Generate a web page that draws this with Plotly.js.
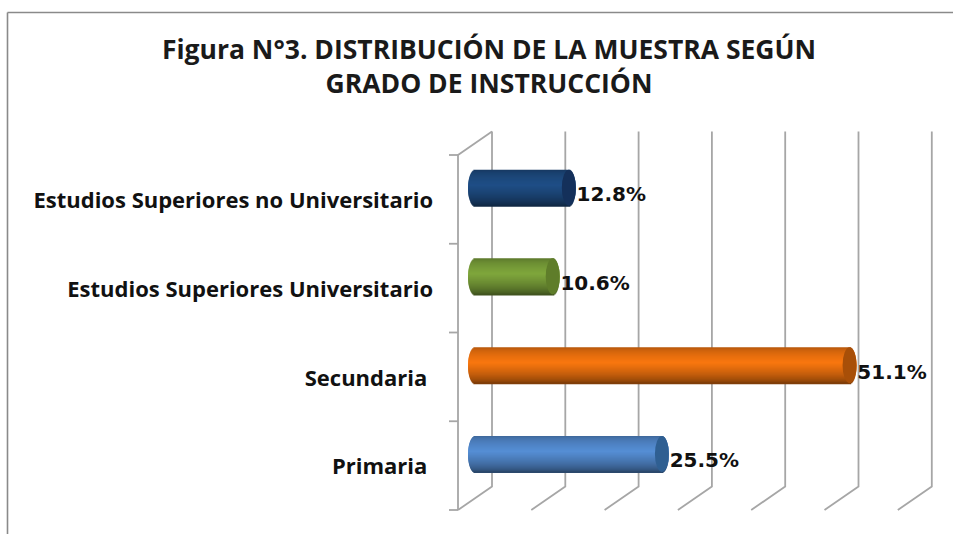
<!DOCTYPE html>
<html><head><meta charset="utf-8">
<script src="https://cdn.plot.ly/plotly-3.0.1.min.js"></script>
<style>html,body{margin:0;padding:0;background:#fff}#c{width:953px;height:534px}</style>
</head><body><div id="c"></div>
<script>
// ---- data
const categories = ['Primaria','Secundaria','Estudios Superiores Universitario','Estudios Superiores no Universitario'];
const tickLabels = ['Primaria ','Secundaria ','Estudios Superiores Universitario','Estudios Superiores no Universitario'];
const values = [25.5, 51.1, 10.6, 12.8];
const valueLabels = ['25.5%','51.1%','10.6%','12.8%'];
const baseColors = ['#558ed5','#f9770f','#7fa63c','#1f4e86'];
const capColors = ['#2f5f92','#a84f08','#5f7d2a','#14305a'];
const gridValues = [0,10,20,30,40,50,60];

// ---- geometry of the pseudo-3D box
const W=953,H=534;
const pxPerUnit=7.33, catPx=88.75, barPx=36, capPx=7;
const front={x0:458,y0:155}, depth={x:34,y:23.5};
const xDom=x0=>[x0/W,(x0+60*pxPerUnit)/W];
const yDom=y0=>[1-(y0+4*catPx)/H,1-y0/H];
const leftPad=2;
const midX=front.x0+depth.x/2, midY=front.y0-depth.y/2;
const backX=front.x0+depth.x, backY=front.y0-depth.y;
const du=depth.x/pxPerUnit, dc=depth.y/catPx;
const box={l:440,r:945,t:120,b:520};

const traces=[];
// box lines: back wall uprights, floor edges, side wall and its ticks
const lx=[],ly=[];
gridValues.forEach(v=>{lx.push(v,v,v-du,null);ly.push(3.5,-0.5,-0.5-dc,null);});
lx.push(0,-du,-du,null);ly.push(3.5,3.5-dc,-0.5-dc,null);
for(let i=0;i<=4;i++){lx.push(-du,-du-9/pxPerUnit,null);ly.push(i-0.5-dc,i-0.5-dc,null);}
traces.push({type:'scatter',mode:'lines',x:lx,y:ly,xaxis:'x',yaxis:'y',hoverinfo:'skip',
  line:{color:'#a6a6a6',width:1.8},showlegend:false});

// cylinder bodies as thin bands shaded across the height
const N=36, slot=(barPx/catPx)/N, a=capPx/pxPerUnit;
function shade(hex,k){
  const n=parseInt(hex.slice(1),16),c=[n>>16,(n>>8)&255,n&255];
  return 'rgb('+c.map(q=>Math.round(q*k)).join(',')+')';
}
for(let j=N-1;j>=0;j--){
  const t=(j+0.5)/N*2-1;
  const s=Math.sqrt(1-t*t);
  const pk=0.15;
  const k=t<pk?0.45+0.55*Math.pow((1+t)/(1+pk),0.6):0.68+0.32*Math.pow((1-t)/(1-pk),0.5);
  traces.push({type:'bar',orientation:'h',y:categories.map((c,i)=>i),
    base:values.map(()=>-a*s),x:values.map(v=>v+2*a*s),
    width:slot*2,offset:(t*N/2*slot)-slot*1.5,
    marker:{color:baseColors.map(c=>shade(c,k)),line:{width:0}},
    xaxis:'x2',yaxis:'y2',hoverinfo:'skip',showlegend:false});
}
// data labels
traces.push({type:'scatter',mode:'text',x:values.map(v=>v+a+0.1),y:values.map((v,i)=>i-0.095),
  text:valueLabels,textposition:'middle right',cliponaxis:false,
  textfont:{family:'"DejaVu Sans"',size:20,color:'#111',weight:700},
  xaxis:'x2',yaxis:'y2',hoverinfo:'skip',showlegend:false});
// category axis at the front of the box
traces.push({type:'scatter',mode:'none',x:values,y:values.map((v,i)=>i),xaxis:'x3',yaxis:'y3',hoverinfo:'skip',showlegend:false});

const shapes=values.map((v,i)=>({type:'circle',xref:'x2',yref:'y2',layer:'above',
  x0:v-a,x1:v+a,y0:i-(barPx/catPx)/2,y1:i+(barPx/catPx)/2,
  fillcolor:capColors[i],line:{width:0}}));
// picture frame
shapes.push({type:'line',xref:'paper',yref:'paper',x0:7.5/W,x1:1,y0:1-12.5/H,y1:1-12.5/H,line:{color:'#8a8a8a',width:1.6}});
shapes.push({type:'line',xref:'paper',yref:'paper',x0:7.5/W,x1:7.5/W,y0:0,y1:1-12.5/H,line:{color:'#8a8a8a',width:1.6}});

const off={visible:false,fixedrange:true};
const layout={
  width:W,height:H,margin:{l:0,r:0,t:0,b:0},paper_bgcolor:'#fff',plot_bgcolor:'rgba(0,0,0,0)',
  showlegend:false,barmode:'overlay',shapes,
  title:{text:'Figura N°3. DISTRIBUCIÓN DE LA MUESTRA SEGÚN<br>GRADO DE INSTRUCCIÓN',
    x:489/W,xanchor:'center',y:1-59/H,yanchor:'top',
    font:{family:'"Open Sans"',size:26.5,color:'#1a1a1a',weight:700}},
  xaxis:{...off,domain:[box.l/W,box.r/W],range:[(box.l-backX)/pxPerUnit,(box.r-backX)/pxPerUnit]},
  yaxis:{...off,anchor:'x',domain:[1-box.b/H,1-box.t/H],range:[3.5-(box.b-backY)/catPx,3.5+(backY-box.t)/catPx]},
  xaxis2:{...off,anchor:'y2',domain:[(midX-leftPad*pxPerUnit)/W,(midX+60*pxPerUnit)/W],range:[-leftPad,60]},
  yaxis2:{...off,anchor:'x2',domain:yDom(midY),range:[-0.5,3.5]},
  xaxis3:{...off,anchor:'y3',domain:xDom(front.x0),range:[0,60]},
  yaxis3:{anchor:'x3',domain:yDom(front.y0+1),range:[-0.5,3.5],tickmode:'array',tickvals:categories.map((c,i)=>i),ticktext:tickLabels,
    showgrid:false,zeroline:false,showline:false,ticks:'',ticklen:0,ticklabelstandoff:24,fixedrange:true,automargin:false,
    tickfont:{family:'"Open Sans"',size:22,color:'#111',weight:700}}
};
Plotly.newPlot('c',traces,layout,{displayModeBar:false,staticPlot:true});
</script></body></html>
